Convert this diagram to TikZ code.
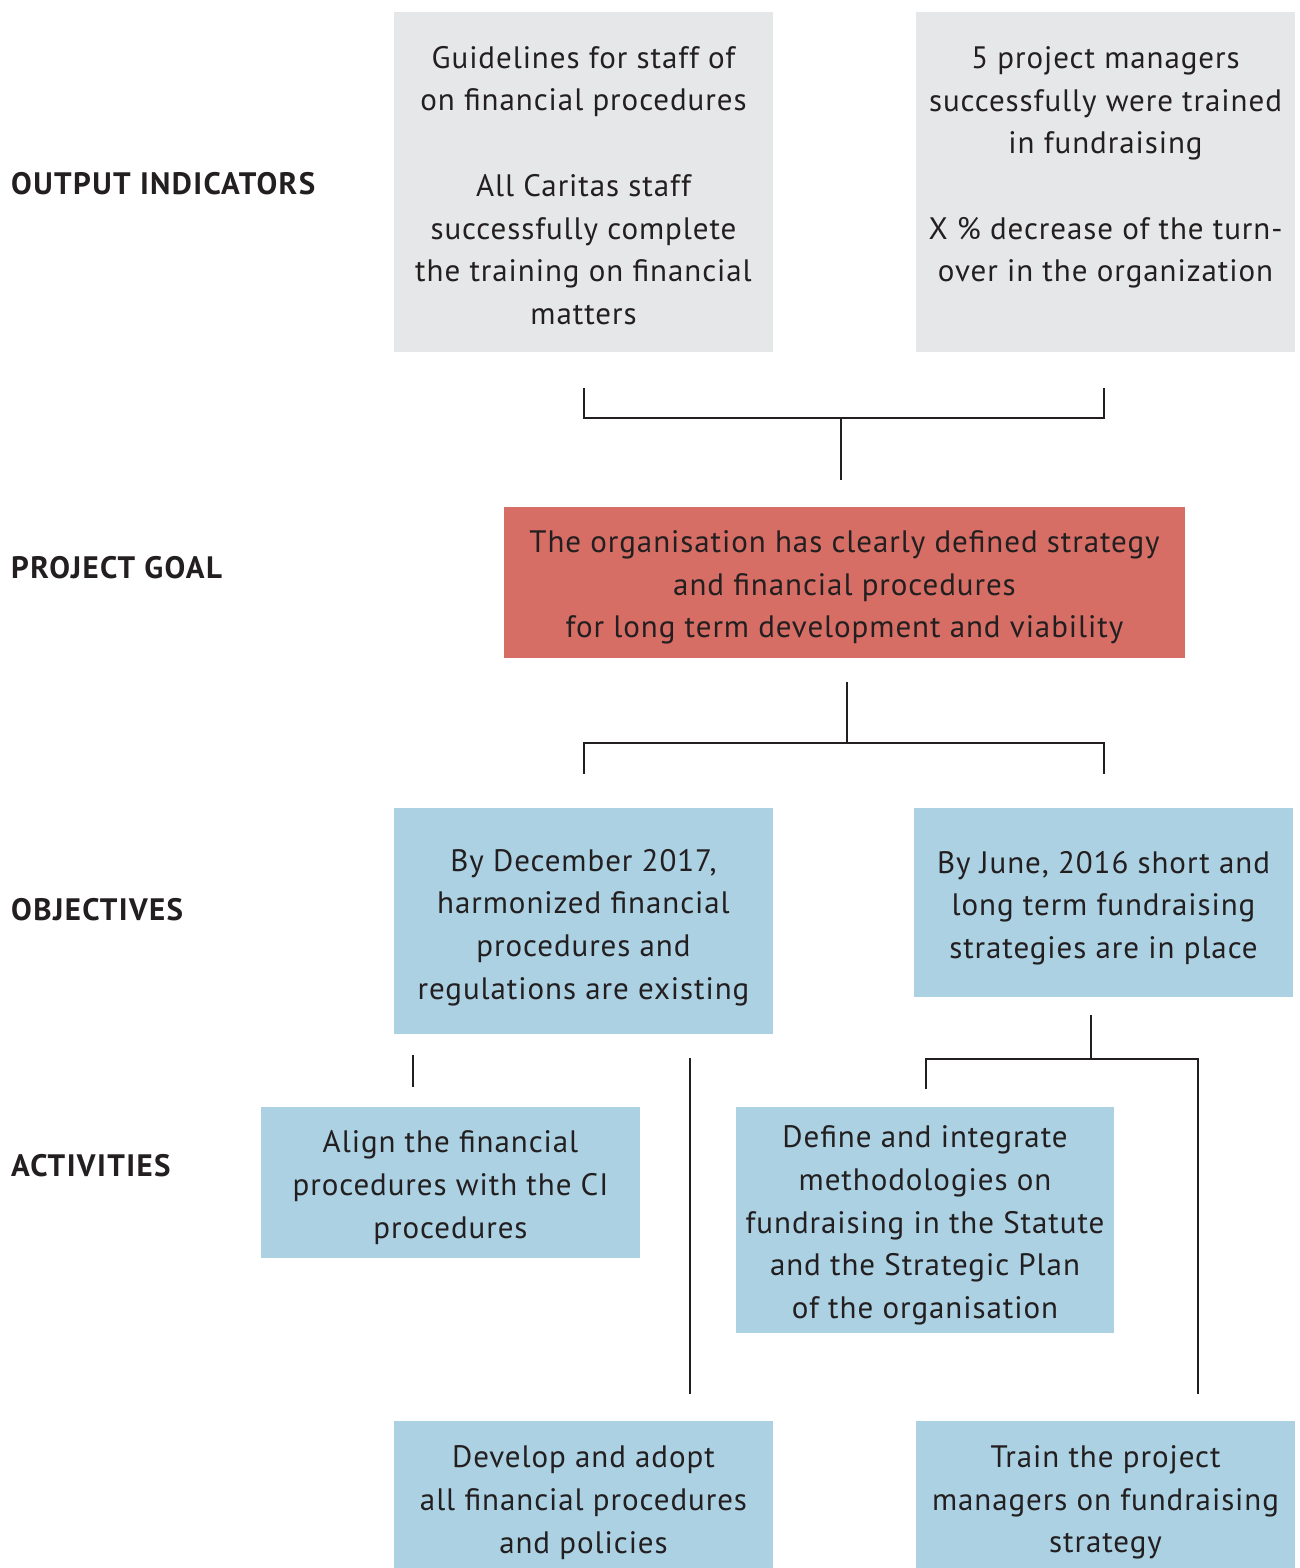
\documentclass[tikz,border=0pt]{standalone}
\usepackage{fontspec}
\setmainfont[LetterSpace=3]{PT Sans}
\newfontfamily\labfont[LetterSpace=4.5]{PT Sans}
\definecolor{txt}{RGB}{35,31,32}
\definecolor{boxgray}{RGB}{230,231,232}
\definecolor{boxred}{RGB}{214,110,101}
\definecolor{boxblue}{RGB}{171,209,227}
\begin{document}
\begin{tikzpicture}[x=1pt,y=-1pt,
  box/.style={rectangle, inner sep=0pt},
  gbox/.style={box, fill=boxgray, minimum width=379pt, minimum height=340pt},
  bbox/.style={box, fill=boxblue, minimum width=379pt},
  rbox/.style={box, fill=boxred, minimum width=681pt, minimum height=151pt},
  tx/.style={inner sep=0pt, align=center, text=txt, font=\fontsize{31}{42.7}\selectfont},
  lab/.style={anchor=west, inner sep=0pt, text=txt, font=\labfont\fontsize{31}{36}\selectfont\bfseries},
  conn/.style={draw=txt, line width=1.3pt}]
\useasboundingbox (0,0) rectangle (1300,1568);
\clip (0,0) rectangle (1300,1568);
\fill[white] (0,0) rectangle (1300,1568);

% labels
\node[lab] (l1) at (11,184) {OUTPUT INDICATORS};
\node[lab] (l2) at (11,568) {PROJECT GOAL};
\node[lab] (l3) at (11,910) {OBJECTIVES};
\node[lab] (l4) at (11,1166) {ACTIVITIES};

% boxes
\node[gbox] (gl) at (583.5,182) {};
\node[gbox] (gr) at (1105.5,182) {};
\node[rbox] (goal) at (844.5,582.5) {};
\node[bbox, minimum height=226pt] (ol) at (583.5,921) {};
\node[bbox, minimum height=189pt] (or) at (1103.5,902.5) {};
\node[bbox, minimum height=151pt] (al) at (450.5,1182.5) {};
\node[bbox, minimum width=378pt, minimum height=226pt] (de) at (925,1220) {};
\node[bbox, minimum height=156pt] (dv) at (583.5,1499) {};
\node[bbox, minimum height=156pt] (tr) at (1105.5,1499) {};

% texts
\node[tx, yshift=-3.5pt] (glt) at (gl.center) {Guidelines for staff of\\on financial procedures\\[42.7pt]All Caritas staff\\successfully complete\\the training on financial\\matters};
\node[tx, yshift=-3.5pt] (grt) at (gr.center) {5 project managers\\successfully were trained\\in fundraising\\[42.7pt]X \% decrease of the turn-\\over in the organization\\\mbox{}};
\node[tx, yshift=-5pt] (goalt) at (goal.center) {The organisation has clearly defined strategy\\and financial procedures\\for long term development and viability};
\node[tx, yshift=-6.5pt] (olt) at (ol.center) {By December 2017,\\harmonized financial\\procedures and\\regulations are existing};
\node[tx, yshift=-5.5pt] (ort) at (or.center) {By June, 2016 short and\\long term fundraising\\strategies are in place};
\node[tx, yshift=-5pt] (alt) at (al.center) {Align the financial\\procedures with the CI\\procedures};
\node[tx, yshift=-5.5pt] (det) at (de.center) {Define and integrate\\methodologies on\\fundraising in the Statute\\and the Strategic Plan\\of the organisation};
\node[tx, yshift=-3.5pt] (dvt) at (dv.center) {Develop and adopt\\all financial procedures\\and policies};
\node[tx, yshift=-3.5pt] (trt) at (tr.center) {Train the project\\managers on fundraising\\strategy};

% connector coordinates
\coordinate (a1) at (584,388);
\coordinate (a2) at (584,418);
\coordinate (a3) at (1104,418);
\coordinate (a4) at (1104,388);
\coordinate (a5) at (841,418);
\coordinate (a6) at (841,480);

\coordinate (b1) at (847,682);
\coordinate (b2) at (847,743);
\coordinate (b3) at (584,774);
\coordinate (b4) at (584,743);
\coordinate (b5) at (1104,743);
\coordinate (b6) at (1104,774);

\coordinate (c1) at (413,1055);
\coordinate (c2) at (413,1087);
\coordinate (c3) at (690,1058);
\coordinate (c4) at (690,1394);

\coordinate (d1) at (1091,1015);
\coordinate (d2) at (1091,1059);
\coordinate (d3) at (926,1089);
\coordinate (d4) at (926,1059);
\coordinate (d5) at (1198,1059);
\coordinate (d6) at (1198,1394);

\draw[conn] (a1) -- (a2) -- (a3) -- (a4);
\draw[conn] (a5) -- (a6);
\draw[conn] (b1) -- (b2);
\draw[conn] (b3) -- (b4) -- (b5) -- (b6);
\draw[conn] (c1) -- (c2);
\draw[conn] (c3) -- (c4);
\draw[conn] (d1) -- (d2);
\draw[conn] (d3) -- (d4) -- (d5) -- (d6);
\end{tikzpicture}
\end{document}
